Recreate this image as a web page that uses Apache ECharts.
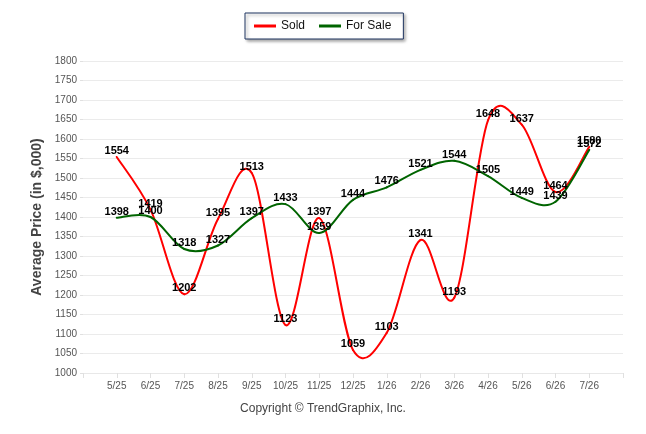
<!DOCTYPE html>
<html><head><meta charset="utf-8">
<script src="https://cdn.jsdelivr.net/npm/echarts@6/dist/echarts.min.js"></script>
<style>html,body{margin:0;padding:0;background:#fff}#c{width:646px;height:434px}</style>
</head><body><div id="c"></div>
<script>
var months = ['', '5/25','6/25','7/25','8/25','9/25','10/25','11/25','12/25','1/26','2/26','3/26','4/26','5/26','6/26','7/26', ''];
var sold =    [null, 1554,1419,1202,1395,1513,1123,1397,1059,1103,1341,1193,1648,1637,1464,1580, null];
var forSale = [null, 1398,1400,1318,1327,1397,1433,1359,1444,1476,1521,1544,1505,1449,1439,1572, null];
var yTicks = {min:1000, max:1800, interval:50};

var font = "'Liberation Sans',Arial,sans-serif";
var chart = echarts.init(document.getElementById('c'));

function pairs(arr){ return arr.map(function(v,i){ return v == null ? [i, '-'] : [i, v]; }); }

// Catmull-Rom spline segments drawn through the axes' own scales (api.coord)
function curveSeries(name, arr, color, z){
  return {
    name: name, type: 'custom', data: pairs(arr), z: z,
    encode: {x: 0, y: 1}, silent: true,
    renderItem: function(params, api){
      var i = params.dataIndex;
      if (arr[i] == null || arr[i+1] == null) return null;
      function P(k){
        if (arr[k] == null) k = (k < i) ? i : i + 1;
        return api.coord([k, arr[k]]);
      }
      var p0 = P(i-1), p1 = P(i), p2 = P(i+1), p3 = P(i+2);
      return {
        type: 'bezierCurve',
        shape: {
          x1: p1[0], y1: p1[1], x2: p2[0], y2: p2[1],
          cpx1: p1[0] + (p2[0]-p0[0])/6, cpy1: p1[1] + (p2[1]-p0[1])/6,
          cpx2: p2[0] - (p3[0]-p1[0])/6, cpy2: p2[1] - (p3[1]-p1[1])/6
        },
        style: {stroke: color, lineWidth: 2, fill: null, lineCap: 'round'}
      };
    }
  };
}
function labelSeries(name, arr, color){
  return {
    name: name, type: 'line', data: arr, z: 5,
    symbol: 'circle', symbolSize: 1, showSymbol: true,
    lineStyle: {width: 0, opacity: 0},
    itemStyle: {color: color, opacity: 0},
    label: {show: true, position: 'top', distance: 0, color: '#000', opacity: 1,
            fontFamily: font, fontWeight: 'bold', fontSize: 11},
    emphasis: {disabled: true}, silent: true
  };
}
chart.setOption({
  animation: false,
  grid: {left: 83, right: 23, top: 61, bottom: 61, containLabel: false},
  legend: {
    left: 245, top: 13, orient: 'horizontal',
    padding: [7, 12, 7, 9], itemGap: 14, itemWidth: 22, itemHeight: 3,
    icon: 'rect',
    borderColor: '#1f3561', borderWidth: 1, backgroundColor: '#fff',
    shadowColor: 'rgba(0,0,0,0.35)', shadowBlur: 3, shadowOffsetX: 2, shadowOffsetY: 2,
    textStyle: {color: '#111', fontSize: 12, fontFamily: font},
    data: [{name: 'Sold', itemStyle: {color: '#ff0000', opacity: 1}},
           {name: 'For Sale', itemStyle: {color: '#006400', opacity: 1}}]
  },
  xAxis: {
    type: 'category', data: months, boundaryGap: false,
    axisLine: {show: true, lineStyle: {color: '#e8e8e8'}},
    axisTick: {show: true, interval: 0, length: 5, lineStyle: {color: '#e0e0e0'}},
    axisLabel: {interval: 0, color: '#555', fontSize: 10, fontFamily: font, margin: 8},
    splitLine: {show: false}
  },
  yAxis: {
    type: 'value', min: yTicks.min, max: yTicks.max, interval: yTicks.interval,
    name: 'Average Price (in $,000)', nameLocation: 'middle', nameRotate: 90, nameGap: 31,
    nameTextStyle: {color: '#444', fontSize: 14, fontWeight: 'bold', fontFamily: font},
    axisLine: {show: false},
    axisTick: {show: true, length: 3, lineStyle: {color: '#e0e0e0'}},
    axisLabel: {color: '#555', fontSize: 10, fontFamily: font, margin: 6,
                formatter: function(v){ return String(v); }},
    splitLine: {show: true, lineStyle: {color: '#ebebeb', width: 1}}
  },
  graphic: [{
    type: 'text', left: 'center', top: 403,
    style: {text: 'Copyright © TrendGraphix, Inc.', fill: '#444', fontSize: 12, fontFamily: font}
  }],
  series: [
    curveSeries('Sold', sold, '#ff0000', 2),
    curveSeries('For Sale', forSale, '#006400', 3),
    labelSeries('Sold', sold, '#ff0000'),
    labelSeries('For Sale', forSale, '#006400')
  ]
});
</script></body></html>
